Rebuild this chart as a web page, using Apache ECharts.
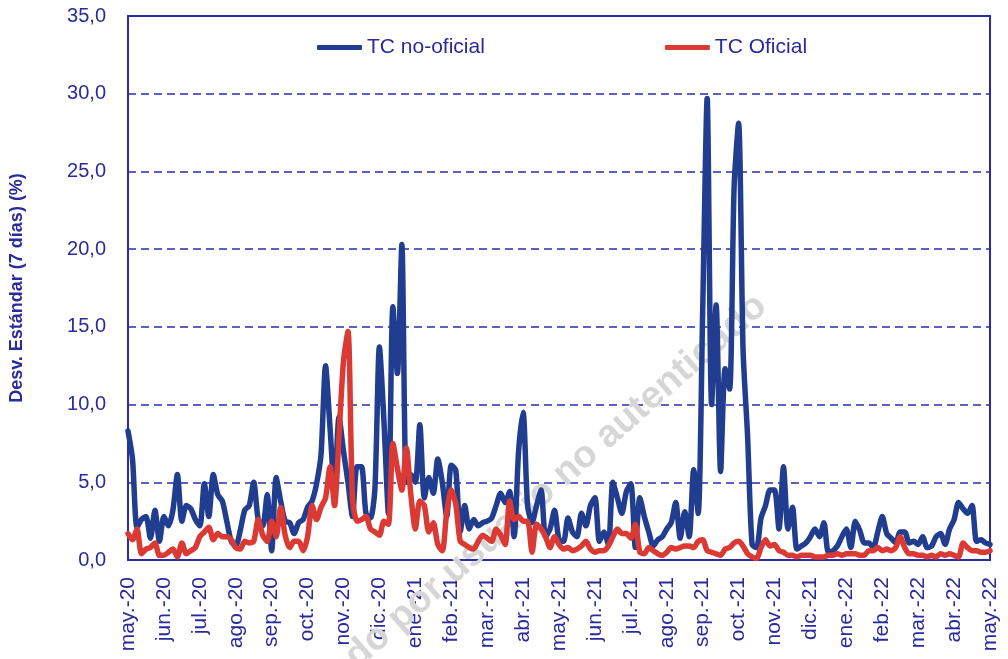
<!DOCTYPE html>
<html>
<head>
<meta charset="utf-8">
<script src="https://cdn.jsdelivr.net/npm/echarts@6/dist/echarts.min.js"></script>
<style>
  html, body { margin: 0; padding: 0; background: #fff; }
  #chart { width: 1008px; height: 659px; }
</style>
</head>
<body>
<div id="chart"></div>
<script>
// etiquetas mensuales del eje x
var months = ['may.-20', 'jun.-20', 'jul.-20', 'ago.-20', 'sep.-20', 'oct.-20', 'nov.-20', 'dic.-20',
  'ene.-21', 'feb.-21', 'mar.-21', 'abr.-21', 'may.-21', 'jun.-21', 'jul.-21', 'ago.-21', 'sep.-21',
  'oct.-21', 'nov.-21', 'dic.-21', 'ene.-22', 'feb.-22', 'mar.-22', 'abr.-22', 'may.-22'];
var yTicks = [0, 5, 10, 15, 20, 25, 30, 35];
var perMonth = 8; // observaciones por mes

// TC no-oficial (8 puntos por mes)
var noOficial = [
  8.3, 6.5, 2.1, 2.6, 2.8, 1.4, 3.2, 1.2,      // may-20
  2.8, 2.2, 3.2, 5.5, 2.5, 3.5, 3.3, 2.6,      // jun-20
  2.2, 4.9, 2.8, 5.5, 4.2, 3.8, 2.5, 1.2,      // jul-20
  0.9, 1.9, 3.2, 3.5, 5.0, 2.6, 2.2, 4.2,      // ago-20
  0.6, 5.3, 3.8, 2.5, 2.4, 1.7, 2.4, 2.6,      // sep-20
  3.4, 3.8, 4.9, 6.8, 12.5, 8.5, 4.5, 9.2,     // oct-20
  7.0, 5.0, 2.8, 6.0, 6.0, 3.0, 2.7, 4.6,      // nov-20
  13.7, 9.0, 3.0, 16.3, 12.0, 20.3, 5.0, 5.5,  // dic-20
  5.0, 8.7, 4.0, 5.3, 4.3, 6.5, 5.0, 2.8,      // ene-21
  6.1, 5.8, 1.8, 3.5, 2.0, 2.6, 2.2, 2.4,      // feb-21
  2.5, 2.7, 3.5, 4.3, 3.7, 4.4, 1.5, 7.0,      // mar-21
  9.5, 3.5, 2.4, 3.5, 4.5, 1.5, 2.0, 3.2,      // abr-21
  1.3, 1.2, 2.7, 1.8, 1.5, 3.0, 2.2, 3.5,      // may-21
  4.0, 1.2, 1.8, 1.0, 5.0, 4.0, 3.0, 4.4,      // jun-21
  4.9, 0.8, 4.0, 2.8, 1.8, 0.9, 1.3, 1.5,      // jul-21
  2.0, 2.4, 3.7, 1.4, 3.1, 1.5, 5.8, 3.0,      // ago-21
  16.0, 29.7, 10.0, 16.4, 5.7, 12.3, 11.0, 24.0, // sep-21
  28.1, 13.5, 8.0, 1.0, 0.8, 2.7, 3.5, 4.5,    // oct-21
  4.5, 2.0, 6.0, 2.0, 3.4, 0.7, 0.9, 1.1,      // nov-21
  1.5, 2.0, 1.5, 2.4, 0.5, 0.6, 0.9, 1.5,      // dic-21
  2.0, 0.8, 2.5, 1.9, 1.1, 1.1, 0.8, 1.8,      // ene-22
  2.8, 1.7, 1.4, 1.1, 1.8, 1.8, 1.1, 1.2,      // feb-22
  1.0, 1.5, 0.8, 0.9, 1.5, 1.7, 1.0, 2.0,      // mar-22
  2.6, 3.7, 3.3, 3.0, 3.5, 1.2, 1.3, 1.1,      // abr-22
  1.0                                          // may-22
];

// TC oficial
var oficial = [
  1.7, 1.3, 2.0, 0.4, 0.7, 0.8, 1.1, 0.3,
  0.3, 0.5, 0.7, 0.2, 1.1, 0.4, 0.6, 0.8,
  1.5, 1.8, 2.1, 1.3, 1.7, 1.5, 1.5, 1.3,
  0.8, 0.7, 1.2, 1.1, 1.2, 2.6, 1.6, 1.2,
  2.5, 1.5, 3.4, 1.6, 0.8, 1.2, 1.2, 0.6,
  1.5, 3.5, 2.6, 3.4, 4.0, 6.0, 3.5, 8.0,
  12.8, 14.7, 4.0, 2.5, 2.6, 2.8, 2.0, 1.8,
  1.6, 2.5, 2.3, 7.5, 5.9, 4.5, 7.2, 4.2,
  2.0, 3.8, 3.5, 1.8, 2.4, 1.0, 0.6, 3.1,
  4.5, 3.6, 1.2, 1.0, 0.8, 0.7, 1.2, 1.6,
  1.4, 1.2, 2.0, 1.6, 1.0, 3.8, 2.6, 2.8,
  2.5, 2.5, 0.5, 2.3, 2.0, 1.5, 0.8, 1.5,
  1.0, 0.7, 0.8, 0.6, 0.7, 0.9, 1.2, 0.7,
  0.5, 0.6, 0.6, 0.9, 1.5, 2.0, 1.7, 1.7,
  1.4, 2.3, 0.5, 0.4, 0.8, 0.6, 0.4, 0.3,
  0.5, 0.8, 0.7, 0.8, 0.9, 0.9, 0.8, 1.2,
  1.3, 0.6, 0.5, 0.4, 0.3, 0.7, 0.8, 1.1,
  1.2, 0.9, 0.4, 0.2, 0.1, 0.8, 1.3, 0.9,
  1.0, 0.6, 0.5, 0.3, 0.3, 0.2, 0.3, 0.3,
  0.3, 0.2, 0.2, 0.2, 0.3, 0.3, 0.4, 0.3,
  0.4, 0.4, 0.4, 0.3, 0.3, 0.6, 0.6, 0.8,
  0.6, 0.7, 0.6, 0.8, 1.5, 0.8, 0.4, 0.4,
  0.3, 0.3, 0.2, 0.3, 0.2, 0.4, 0.3, 0.4,
  0.3, 0.2, 1.1, 0.8, 0.6, 0.6, 0.5, 0.5,
  0.6
];

(function () {
  var myChart = echarts.init(document.getElementById('chart'));
  var axisColor = '#2b2ba6';
  var textColor = '#2a2a9c';

  function toPoints(arr) {
    return arr.map(function (v, i) { return [i / perMonth, v]; });
  }

  var option = {
    animation: false,
    backgroundColor: '#fff',
    grid: {
      left: 128, right: 18, top: 16, bottom: 99,
      show: true, borderColor: axisColor, borderWidth: 2
    },
    legend: {
      left: 312, top: 32,
      itemGap: 180,
      itemWidth: 45, itemHeight: 5,
      icon: 'roundRect',
      textStyle: { fontSize: 21, color: textColor, fontFamily: 'Liberation Sans' },
      data: ['TC no-oficial', 'TC Oficial']
    },
    graphic: [{
      type: 'text',
      x: 495, y: 535,
      rotation: 0.72,
      z: 1,
      style: {
        text: 'Consultado por usuario no autenticado',
        font: 'bold 38px "Liberation Sans"',
        fill: '#d6d6d6',
        textAlign: 'center',
        textVerticalAlign: 'middle'
      }
    }],
    xAxis: {
      type: 'value',
      min: 0, max: months.length - 1, interval: 1,
      splitLine: { show: false },
      axisTick: { show: false },
      axisLine: { lineStyle: { color: axisColor, width: 2 } },
      axisLabel: {
        rotate: 90,
        margin: 17,
        fontSize: 21,
        color: textColor,
        fontFamily: 'Liberation Sans',
        formatter: function (v) { return months[Math.round(v)] || ''; }
      }
    },
    yAxis: {
      type: 'value',
      min: yTicks[0], max: yTicks[yTicks.length - 1], interval: 5,
      name: 'Desv. Estándar (7 días) (%)',
      nameLocation: 'middle',
      nameGap: 102,
      nameTextStyle: { fontSize: 18, fontWeight: 'bold', color: textColor, fontFamily: 'Liberation Sans' },
      axisLine: { show: true, lineStyle: { color: axisColor, width: 2 } },
      axisTick: { show: false },
      axisLabel: {
        margin: 22,
        fontSize: 20,
        color: textColor,
        fontFamily: 'Liberation Sans',
        formatter: function (v) { return v.toFixed(1).replace('.', ','); }
      },
      splitLine: { lineStyle: { color: axisColor, width: 1.5, type: [8, 5] } }
    },
    series: [{
      name: 'TC no-oficial',
      type: 'line',
      data: toPoints(noOficial),
      showSymbol: false,
      smooth: 0.25,
      color: '#213d8f',
      lineStyle: { width: 5.5, color: '#213d8f', join: 'round', cap: 'round' },
      z: 3
    }, {
      name: 'TC Oficial',
      type: 'line',
      data: toPoints(oficial),
      showSymbol: false,
      smooth: 0.25,
      color: '#da3a33',
      lineStyle: { width: 5.5, color: '#da3a33', join: 'round', cap: 'round' },
      z: 4
    }]
  };

  myChart.setOption(option);
  window.addEventListener('resize', function () { myChart.resize(); });
})();
</script>
</body>
</html>
